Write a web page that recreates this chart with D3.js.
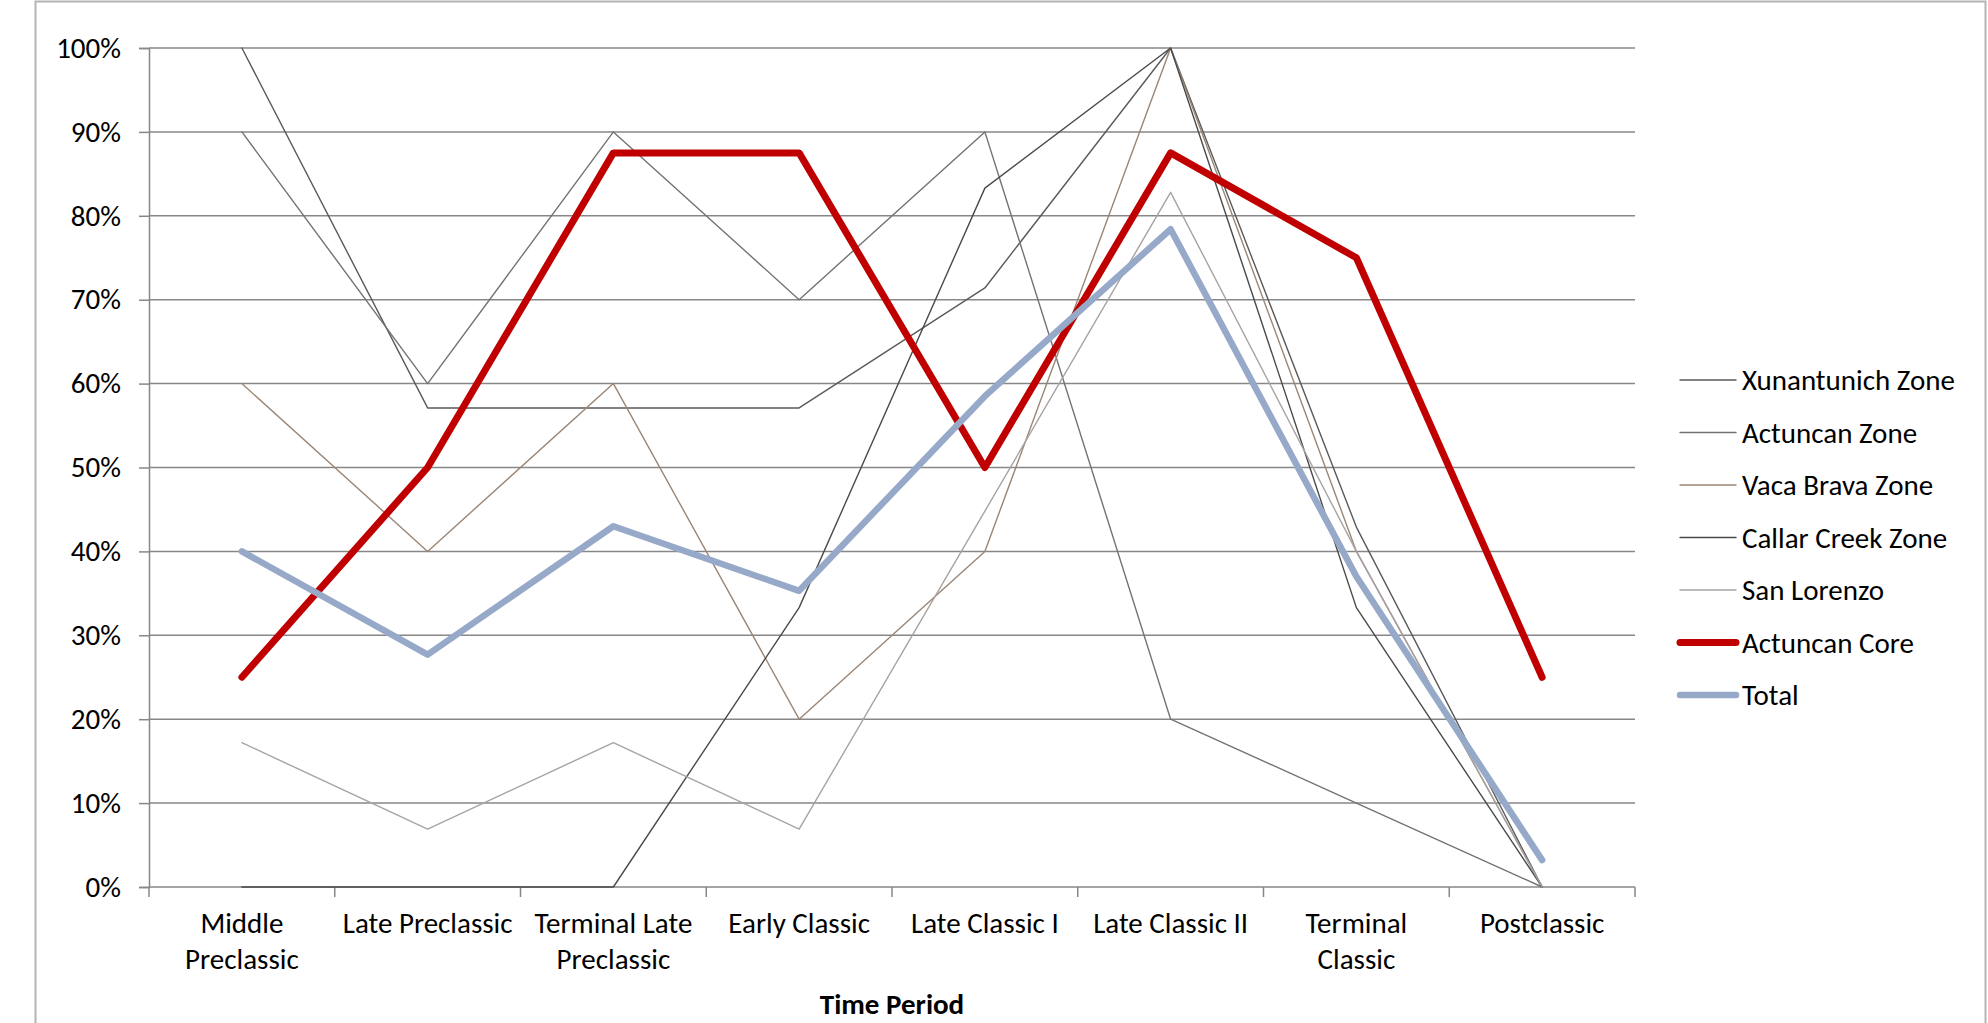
<!DOCTYPE html>
<html>
<head>
<meta charset="utf-8">
<script src="https://cdn.jsdelivr.net/npm/d3@7"></script>
<style>
  html, body { margin: 0; padding: 0; background: #fff; }
  svg { display: block; }
  text { font-family: Carlito, Lato, "Open Sans", sans-serif; fill: #000; }
</style>
</head>
<body>
<svg id="chart" width="1988" height="1023"></svg>
<script>
// ---- data ----
const categories = ["Middle Preclassic", "Late Preclassic", "Terminal Late Preclassic", "Early Classic",
                    "Late Classic I", "Late Classic II", "Terminal Classic", "Postclassic"];
const tickLabelLines = [["Middle", "Preclassic"], ["Late Preclassic"], ["Terminal Late", "Preclassic"],
                        ["Early Classic"], ["Late Classic I"], ["Late Classic II"], ["Terminal", "Classic"], ["Postclassic"]];
const seriesNames = ["Xunantunich Zone", "Actuncan Zone", "Vaca Brava Zone", "Callar Creek Zone",
                     "San Lorenzo", "Actuncan Core", "Total"];
const xunantunichZone = [1.00, 0.571, 0.571, 0.571, 0.714, 1.00, 0.429, 0];
const actuncanZone    = [0.90, 0.60, 0.90, 0.70, 0.90, 0.20, 0.10, 0];
const vacaBravaZone   = [0.60, 0.40, 0.60, 0.20, 0.40, 1.00, 0.40, 0];
const callarCreekZone = [0, 0, 0, 0.333, 0.833, 1.00, 0.333, 0];
const sanLorenzo      = [0.172, 0.069, 0.172, 0.069, 0.448, 0.828, 0.40, 0];
const actuncanCore    = [0.25, 0.50, 0.875, 0.875, 0.50, 0.875, 0.75, 0.25];
const total           = [0.40, 0.277, 0.43, 0.353, 0.585, 0.784, 0.37, 0.032];
const yTicks = [0, 0.1, 0.2, 0.3, 0.4, 0.5, 0.6, 0.7, 0.8, 0.9, 1.0];
const xTitle = "Time Period";

// ---- styles ----
const seriesValues = [xunantunichZone, actuncanZone, vacaBravaZone, callarCreekZone, sanLorenzo, actuncanCore, total];
const seriesColors = ["#5a5a5a", "#737373", "#9a8676", "#4a4a4a", "#a9a2a2", "#c00000", "#97a9c9"];
const seriesWidths = [1.4, 1.4, 1.4, 1.4, 1.4, 7, 6.5];
const fontSize = 29;

const svg = d3.select("#chart");
const plot = { left: 149, right: 1635, top: 48, bottom: 887 };

// chart border
svg.append("rect").attr("x", 35.5).attr("y", 1.5).attr("width", 1950).attr("height", 1040)
  .attr("fill", "none").attr("stroke", "#b4b4b4").attr("stroke-width", 2);

const x = d3.scalePoint().domain(categories).range([plot.left, plot.right]).padding(0.5);
const xBand = d3.scaleBand().domain(categories).range([plot.left, plot.right]);
const y = d3.scaleLinear().domain([0, 1]).range([plot.bottom, plot.top]);

// gridlines
svg.append("g").selectAll("line").data(yTicks.filter(d => d > 0)).join("line")
  .attr("x1", plot.left).attr("x2", plot.right)
  .attr("y1", d => y(d)).attr("y2", d => y(d))
  .attr("stroke", "#878787").attr("stroke-width", 1.5);

// y axis
const yAxis = d3.axisLeft(y).tickValues(yTicks).tickFormat(d3.format(".0%")).tickSize(10).tickPadding(18);
const gy = svg.append("g").attr("transform", `translate(${plot.left},0)`).call(yAxis);
gy.select(".domain").attr("stroke", "#878787").attr("stroke-width", 1.5);
gy.selectAll(".tick line").attr("stroke", "#878787").attr("stroke-width", 1.5);
gy.selectAll(".tick text").attr("font-size", fontSize).attr("font-family", "Carlito, Lato, sans-serif").attr("fill", "#000");

// x axis line + ticks at band boundaries
const gx = svg.append("g");
gx.append("line").attr("x1", plot.left).attr("x2", plot.right)
  .attr("y1", plot.bottom).attr("y2", plot.bottom).attr("stroke", "#878787").attr("stroke-width", 1.5);
const boundaries = categories.map(c => xBand(c)).concat([xBand(categories[categories.length - 1]) + xBand.bandwidth()]);
gx.selectAll("line.tk").data(boundaries).join("line").attr("class", "tk")
  .attr("x1", d => d).attr("x2", d => d).attr("y1", plot.bottom).attr("y2", plot.bottom + 10)
  .attr("stroke", "#878787").attr("stroke-width", 1.5);

// category labels
const lab = gx.selectAll("text.cat").data(categories).join("text").attr("class", "cat")
  .attr("text-anchor", "middle").attr("font-size", fontSize)
  .attr("transform", d => `translate(${x(d)},${plot.bottom + 46})`);
lab.each(function(d, i) {
  const t = d3.select(this);
  tickLabelLines[i].forEach((ln, j) => {
    t.append("tspan").attr("x", 0).attr("dy", j === 0 ? 0 : 36).text(ln);
  });
});

// axis title
svg.append("text").attr("x", (plot.left + plot.right) / 2).attr("y", 1014)
  .attr("text-anchor", "middle").attr("font-size", fontSize).attr("font-weight", "bold").text(xTitle);

// lines
const line = d3.line().x((d, i) => x(categories[i])).y(d => y(d));
svg.append("g").selectAll("path").data(seriesValues).join("path")
  .attr("d", d => line(d))
  .attr("fill", "none")
  .attr("stroke", (d, i) => seriesColors[i])
  .attr("stroke-width", (d, i) => seriesWidths[i])
  .attr("stroke-linejoin", "round").attr("stroke-linecap", "round");

// legend
const lg = svg.append("g").attr("transform", "translate(1680,380)");
const items = lg.selectAll("g").data(seriesNames).join("g")
  .attr("transform", (d, i) => `translate(0,${i * 52.5})`);
items.append("line").attr("x1", 0).attr("x2", 56).attr("y1", 0).attr("y2", 0)
  .attr("stroke", (d, i) => seriesColors[i])
  .attr("stroke-width", (d, i) => seriesWidths[i])
  .attr("stroke-linecap", "round");
items.append("text").attr("x", 62).attr("y", 0).attr("dy", "0.35em").attr("font-size", fontSize).text(d => d);
</script>
</body>
</html>
